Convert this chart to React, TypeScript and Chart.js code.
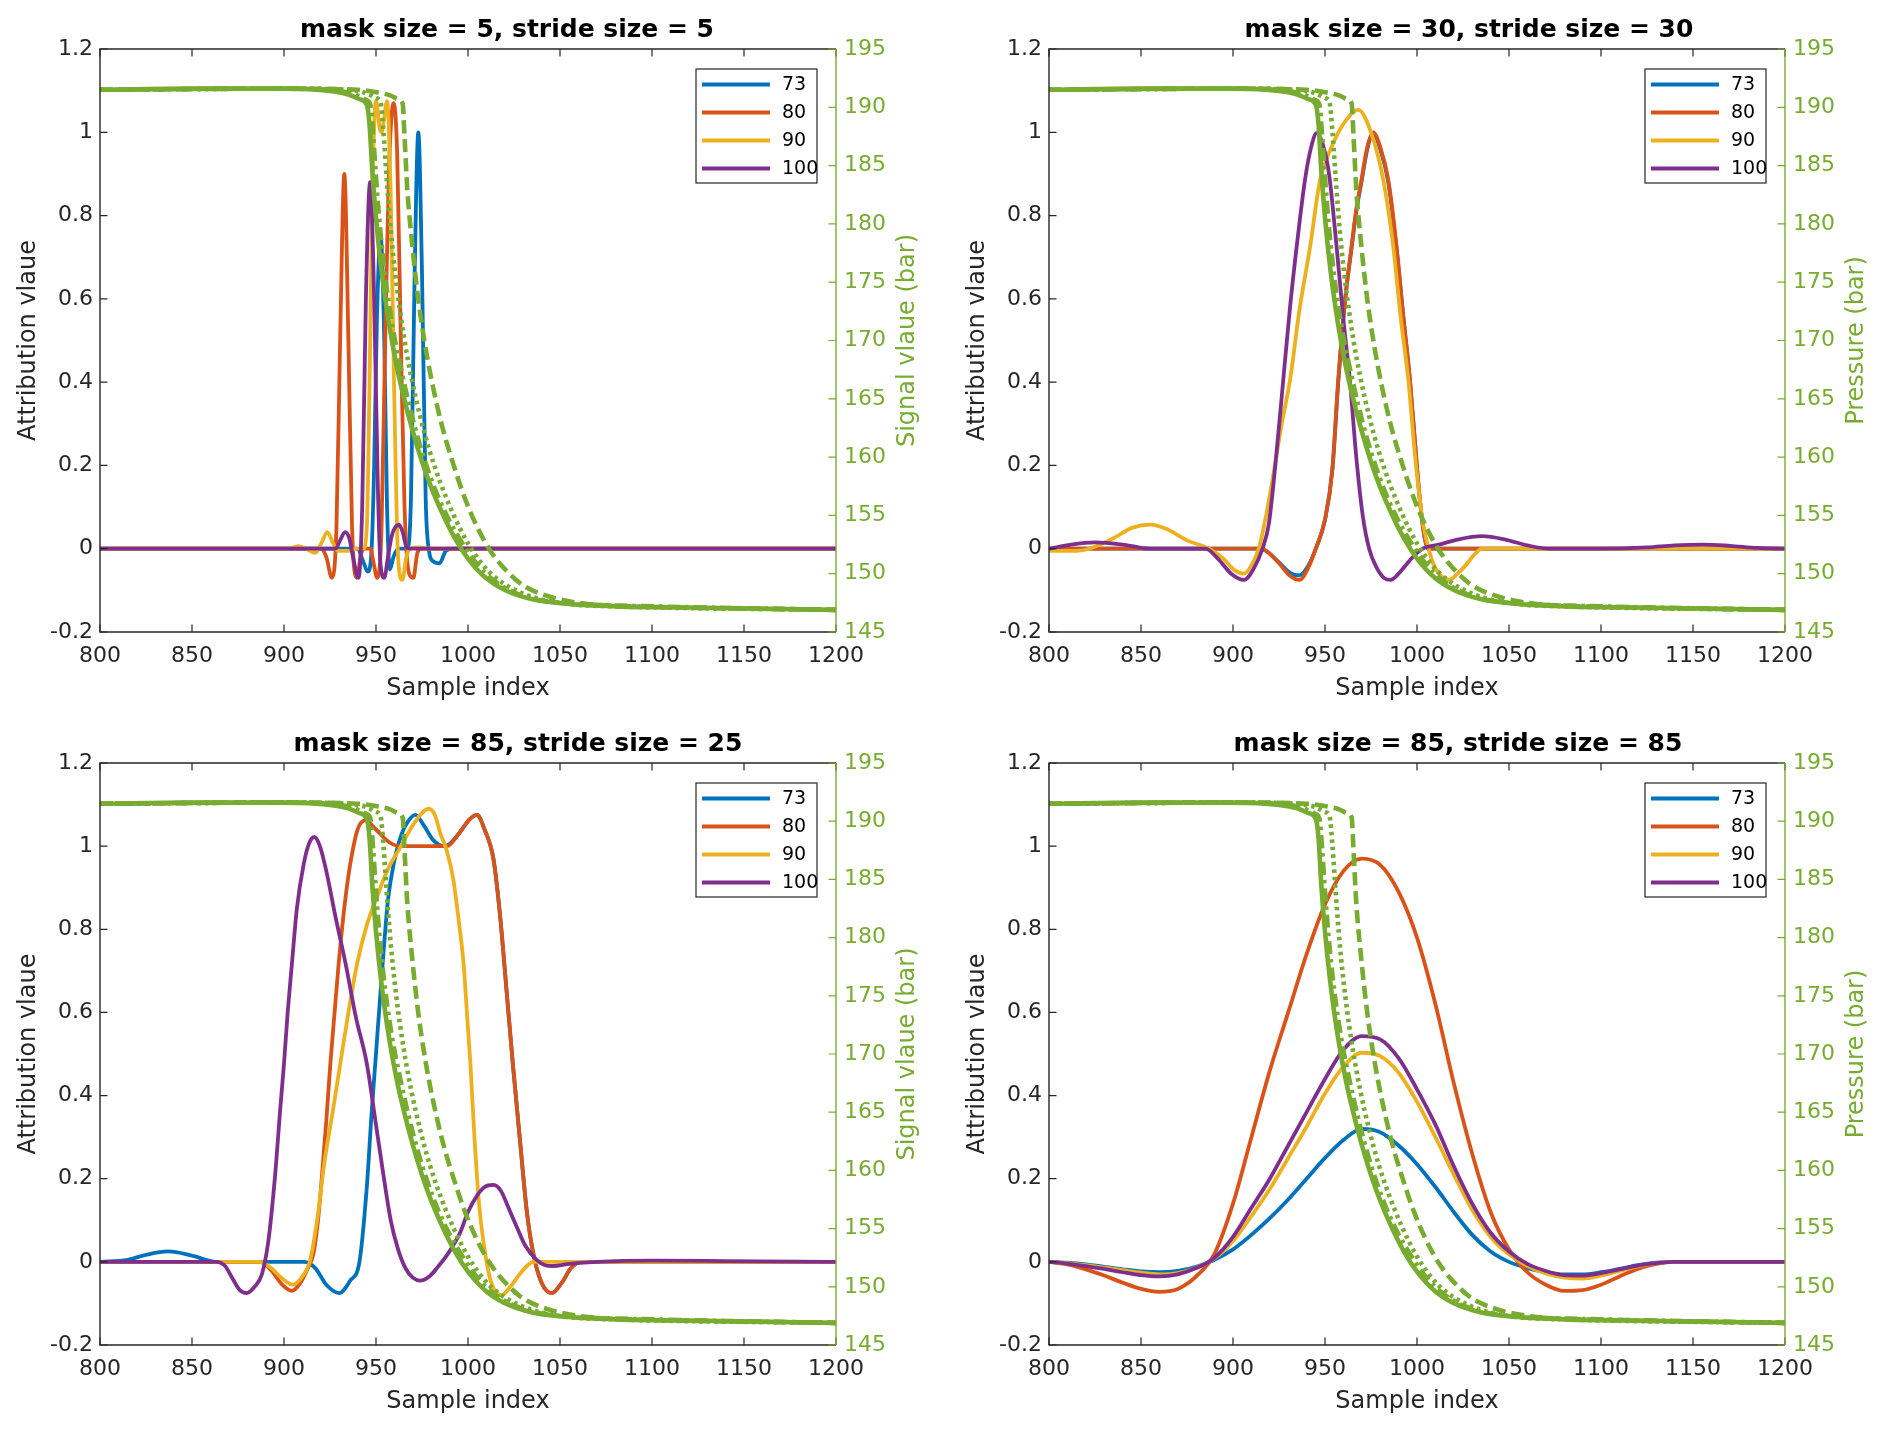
import React, { useEffect, useRef } from "react";
import { Chart, registerables } from "chart.js";
Chart.register(...registerables);

type Pt = [number, number];

// ---------- axes ----------
const X_TICKS = [800, 850, 900, 950, 1000, 1050, 1100, 1150, 1200];
const Y_LEFT_TICKS = [-0.2, 0, 0.2, 0.4, 0.6, 0.8, 1, 1.2];
const Y_RIGHT_TICKS = [145, 150, 155, 160, 165, 170, 175, 180, 185, 190, 195];

// ---------- series meta ----------
const SERIES_LABELS = ["73", "80", "90", "100"];
const SERIES_COLORS = ["#0072BD", "#D95319", "#EDB120", "#7E2F8E"];
const GREEN = "#77AC30";

// ---------- pressure signals (right axis, bar) ----------
const P_SOLID: Pt[] = [
  [800, 191.5], [850, 191.6], [900, 191.6], [925, 191.4], [935, 191.1], [941, 190.7], [945, 190.2],
  [946.5, 188.5], [948, 184.5], [950, 180.5], [953, 176.0], [957, 171.5], [961, 168.0], [965, 165.2],
  [970, 162.2], [975, 159.6], [980, 157.4], [986, 155.2], [993, 153.0], [1000, 151.3], [1010, 149.6],
  [1020, 148.6], [1035, 147.8], [1055, 147.4], [1080, 147.2], [1120, 147.1], [1160, 147.0], [1200, 146.9],
];
const P_DASHDOT: Pt[] = [
  [800, 191.5], [900, 191.6], [930, 191.4], [940, 191.0], [945, 190.6], [947, 190.2], [948.5, 187.5],
  [950, 184.0], [952, 180.0], [955, 175.5], [959, 171.2], [963, 168.0], [968, 164.5], [973, 161.5],
  [978, 159.0], [984, 156.5], [990, 154.5], [997, 152.6], [1005, 150.8], [1015, 149.3], [1025, 148.4],
  [1040, 147.7], [1060, 147.4], [1100, 147.2], [1200, 146.9],
];
const P_DOTTED: Pt[] = [
  [800, 191.5], [900, 191.6], [935, 191.5], [945, 191.2], [950, 190.8], [952.5, 190.4], [954, 188.0],
  [956, 183.5], [958, 179.5], [961, 175.0], [965, 170.5], [969, 167.0], [974, 163.5], [979, 160.6],
  [985, 157.8], [992, 155.1], [1000, 152.6], [1010, 150.4], [1020, 149.1], [1035, 148.0], [1055, 147.4],
  [1080, 147.2], [1200, 146.9],
];
const P_DASHED: Pt[] = [
  [800, 191.5], [900, 191.6], [940, 191.5], [950, 191.3], [958, 191.0], [962, 190.7], [964.5, 190.3],
  [965.5, 187.5], [967, 183.0], [969.5, 178.5], [973, 173.5], [977, 169.3], [981, 166.0], [986, 162.6],
  [992, 159.4], [998, 156.6], [1005, 154.0], [1012, 152.0], [1020, 150.4], [1030, 149.0], [1045, 148.0],
  [1065, 147.4], [1090, 147.2], [1200, 146.9],
];

// ---------- panel 1: mask 5, stride 5 ----------
const S1_73: Pt[] = [
  [800, 0], [940, 0], [943, -0.03], [945.5, -0.055], [947.5, -0.01], [949, 0.2], [950.5, 0.55], [952.5, 0.75],
  [954.5, 0.5], [956, 0.1], [957.5, -0.05], [959.5, -0.02], [962, 0], [967, 0], [969, 0.12], [971, 0.66],
  [973, 1.0], [975, 0.66], [977, 0.12], [979, -0.01], [981, -0.03], [984.5, -0.035], [988, -0.005], [992, 0], [1200, 0],
];
const S1_80: Pt[] = [
  [800, 0], [920, 0], [923, -0.02], [926, -0.07], [928.5, 0.05], [930.5, 0.5], [932.8, 0.9], [935, 0.5],
  [937, 0.05], [939.5, -0.07], [942, -0.01], [944, 0], [947, 0], [948.5, -0.03], [950.7, -0.07], [953, 0.05],
  [955, 0.5], [957, 0.9], [959.5, 1.07], [961.5, 0.95], [963.5, 0.5], [965.5, 0.1], [968, -0.06], [970.3, -0.07],
  [972.5, -0.01], [975, 0], [1200, 0],
];
const S1_90: Pt[] = [
  [800, 0], [900, 0], [905, 0.003], [908, 0.006], [912, 0], [917, -0.01], [920.5, 0.015], [923.5, 0.04],
  [926.5, 0.015], [929, -0.005], [935, -0.005], [940, 0], [943, 0], [945, 0.05], [946.5, 0.4], [948, 0.85],
  [950, 1.075], [952, 1.01], [953, 1.0], [954.3, 1.03], [956, 1.075], [958, 0.85], [960, 0.35], [962, -0.02],
  [964.3, -0.075], [966.5, -0.02], [968.5, 0], [973, 0.003], [980, 0], [1200, 0],
];
const S1_100: Pt[] = [
  [800, 0], [928, 0], [930.5, 0.02], [933.2, 0.04], [935.5, 0.025], [937.5, -0.02], [940.5, -0.07],
  [942.5, 0.1], [944.5, 0.6], [946.8, 0.88], [949, 0.6], [951, 0.15], [952.5, -0.04], [954.5, -0.07],
  [956.5, -0.02], [958.5, 0.03], [960.5, 0.052], [962.5, 0.057], [964.5, 0.04], [966.5, 0.005], [968.5, 0], [1200, 0],
];

// ---------- panel 2: mask 30, stride 30 ----------
const S2_73: Pt[] = [
  [800, 0], [914, 0], [918, -0.005], [925, -0.033], [931, -0.058], [936, -0.064], [941, -0.04], [945, 0.0],
  [950, 0.07], [954, 0.19], [957.2, 0.4], [961, 0.6], [964.4, 0.72], [967, 0.81], [969.8, 0.88], [973, 0.96],
  [976.2, 0.995], [980, 0.96], [984.4, 0.88], [988.9, 0.72], [992.5, 0.56], [996.2, 0.4], [999, 0.25],
  [1001.5, 0.12], [1004, 0.03], [1006, 0], [1200, 0],
];
const S2_80: Pt[] = [
  [800, 0], [914, 0], [918, -0.005], [925, -0.035], [931, -0.065], [936, -0.075], [941, -0.045], [945, 0.0],
  [950, 0.07], [954, 0.19], [957.2, 0.405], [961, 0.6], [964.4, 0.725], [967, 0.815], [969.8, 0.885], [973, 0.965],
  [976.2, 1.0], [980, 0.965], [984.4, 0.885], [988.9, 0.725], [992.5, 0.56], [996.2, 0.405], [999, 0.25],
  [1001.5, 0.12], [1004, 0.03], [1006, 0], [1200, 0],
];
const S2_90: Pt[] = [
  [800, -0.005], [815, -0.005], [822, 0.0], [835, 0.025], [845, 0.05], [855.3, 0.058], [865, 0.045],
  [875, 0.02], [887, 0], [895, -0.025], [901, -0.052], [906, -0.06], [910, -0.04], [914, 0], [918, 0.08],
  [922, 0.18], [926.5, 0.3], [931, 0.405], [936, 0.57], [941.9, 0.725], [947.3, 0.885], [953.6, 0.965],
  [960, 1.02], [968.1, 1.054], [975, 1.0], [981.7, 0.885], [987.1, 0.725], [991, 0.56], [995.3, 0.405],
  [999, 0.22], [1003, 0.07], [1008.3, -0.03], [1013, -0.065], [1017.4, -0.075], [1022, -0.06], [1026.4, -0.04],
  [1031, -0.015], [1035.5, 0], [1200, 0],
];
const S2_100: Pt[] = [
  [800, 0], [812, 0.01], [825, 0.015], [840, 0.01], [855, 0.0], [885, 0], [892, -0.025], [899, -0.06],
  [906, -0.075], [911, -0.05], [916, 0], [919.5, 0.06], [923, 0.2], [927.3, 0.405], [931, 0.58], [934.6, 0.725],
  [939.1, 0.885], [942.5, 0.965], [945.5, 0.998], [948.5, 0.975], [952.2, 0.9], [956.3, 0.725], [960, 0.55],
  [963.5, 0.405], [967, 0.22], [970.5, 0.08], [974, 0], [978, -0.045], [982, -0.07], [985.7, -0.075], [990, -0.06],
  [995.7, -0.03], [1000, -0.01], [1003, 0], [1012, 0.01], [1022, 0.022], [1035.5, 0.03], [1048, 0.022],
  [1060, 0.008], [1072, 0], [1100, 0], [1125, 0.003], [1140, 0.008], [1155, 0.01], [1170, 0.007],
  [1185, 0.002], [1200, 0],
];

// ---------- panel 3: mask 85, stride 25 ----------
const S3_73: Pt[] = [
  [800, 0], [815, 0.005], [825, 0.017], [837, 0.025], [850, 0.015], [863, 0], [880, 0], [911, 0], [917, -0.015],
  [923, -0.055], [930, -0.075], [936, -0.045], [941, 0], [945, 0.18], [947.5, 0.35], [949.6, 0.477],
  [953.6, 0.717], [956.5, 0.87], [959.6, 0.957], [964, 1.03], [967.5, 1.06], [971.4, 1.075], [976, 1.05],
  [981, 1.015], [986.8, 1.0], [990, 1.005], [995, 1.03], [1001, 1.065], [1004.9, 1.075], [1009, 1.04],
  [1013.8, 0.97], [1017.5, 0.83], [1021, 0.65], [1024.5, 0.47], [1028.3, 0.29], [1032, 0.12], [1035.5, 0.02],
  [1040, -0.05], [1045.5, -0.075], [1051, -0.05], [1056, -0.015], [1061, 0], [1200, 0],
];
const S3_80: Pt[] = [
  [800, 0], [887, 0], [893, -0.02], [899, -0.055], [904.2, -0.07], [909, -0.05], [913, -0.015], [916, 0.02],
  [918.5, 0.1], [920.5, 0.2], [923, 0.34], [925.2, 0.477], [927.5, 0.6], [929.7, 0.717], [933, 0.86], [936, 0.957],
  [940, 1.04], [944.2, 1.062], [950, 1.04], [957, 1.01], [963.2, 1.0], [975, 1.0], [988.6, 1.0], [995, 1.03],
  [1001, 1.065], [1004.9, 1.075], [1009, 1.04], [1013.8, 0.97], [1017.5, 0.83], [1021, 0.65], [1024.5, 0.47],
  [1028.3, 0.29], [1032, 0.12], [1035.5, 0.02], [1040, -0.05], [1045.5, -0.075], [1051, -0.05], [1056, -0.015],
  [1061, 0], [1200, 0],
];
const S3_90: Pt[] = [
  [800, 0], [887, 0], [893, -0.015], [899, -0.04], [905, -0.055], [910, -0.035], [914, 0], [918, 0.1],
  [922, 0.24], [926.8, 0.37], [930.6, 0.477], [935, 0.6], [939.7, 0.717], [945, 0.81], [950.5, 0.877],
  [956, 0.94], [963.2, 0.997], [970, 1.05], [974, 1.075], [978.6, 1.09], [982, 1.075], [985, 1.03],
  [988.4, 0.99], [992, 0.92], [995, 0.82], [997.6, 0.717], [1000, 0.56], [1001.3, 0.477], [1003.5, 0.3],
  [1006, 0.14], [1009, 0.03], [1012, -0.04], [1015.5, -0.075], [1018.3, -0.08], [1023, -0.06], [1028, -0.03],
  [1032, -0.01], [1035.5, 0], [1200, 0],
];
const S3_100: Pt[] = [
  [800, 0], [863.4, 0], [868, -0.01], [872, -0.04], [876, -0.068], [879.7, -0.075], [884, -0.06], [888, -0.03],
  [891.5, 0.05], [895, 0.2], [898, 0.37], [900, 0.477], [902, 0.6], [904.3, 0.717], [907, 0.85], [910.7, 0.957],
  [913.5, 1.005], [916.5, 1.022], [919.5, 1.0], [923, 0.94], [928, 0.83], [933.5, 0.717], [939, 0.59],
  [945, 0.477], [950, 0.33], [954, 0.21], [958, 0.1], [962, 0.03], [966, -0.015], [970, -0.038], [973.9, -0.045],
  [979, -0.035], [984, -0.01], [988.4, 0.015], [992, 0.04], [995.7, 0.07], [1000, 0.12], [1005, 0.16],
  [1009, 0.18], [1013.8, 0.185], [1018, 0.17], [1022, 0.13], [1026.4, 0.085], [1031, 0.04], [1037.3, 0.005],
  [1042, -0.008], [1046, -0.01], [1055, -0.005], [1070, 0], [1100, 0.003], [1140, 0.002], [1200, 0],
];

// ---------- panel 4: mask 85, stride 85 ----------
const S4_73: Pt[] = [
  [800, 0], [810, -0.002], [820, -0.006], [830, -0.012], [840, -0.018], [850, -0.023], [860, -0.025],
  [870, -0.022], [880, -0.012], [890, 0.005], [900, 0.03], [910, 0.065], [920, 0.105], [930, 0.15], [940, 0.2],
  [950, 0.25], [960, 0.293], [970, 0.32], [980, 0.312], [990, 0.28], [1000, 0.235], [1010, 0.18], [1020, 0.12],
  [1030, 0.065], [1040, 0.025], [1050, 0.0], [1060, -0.015], [1070, -0.025], [1080, -0.03], [1090, -0.03],
  [1100, -0.025], [1110, -0.017], [1120, -0.008], [1130, -0.002], [1140, 0], [1200, 0],
];
const S4_80: Pt[] = [
  [800, 0], [810, -0.006], [820, -0.018], [830, -0.033], [840, -0.05], [850, -0.065], [860, -0.072],
  [870, -0.065], [880, -0.035], [890, 0.02], [900, 0.14], [910, 0.3], [920, 0.46], [930, 0.6], [940, 0.74],
  [950, 0.86], [960, 0.94], [970, 0.97], [980, 0.955], [990, 0.89], [1000, 0.78], [1010, 0.62], [1020, 0.43],
  [1030, 0.26], [1040, 0.12], [1050, 0.03], [1060, -0.025], [1070, -0.055], [1080, -0.07], [1090, -0.068],
  [1100, -0.055], [1110, -0.035], [1120, -0.017], [1130, -0.005], [1140, 0], [1200, 0],
];
const S4_90: Pt[] = [
  [800, 0], [810, -0.003], [820, -0.008], [830, -0.014], [840, -0.02], [850, -0.026], [860, -0.03],
  [870, -0.027], [880, -0.014], [890, 0.008], [900, 0.05], [910, 0.11], [920, 0.175], [930, 0.25], [940, 0.325],
  [950, 0.405], [960, 0.47], [970, 0.503], [980, 0.495], [990, 0.455], [1000, 0.385], [1010, 0.3], [1020, 0.21],
  [1030, 0.125], [1040, 0.06], [1050, 0.018], [1060, -0.01], [1070, -0.028], [1080, -0.038], [1090, -0.04],
  [1100, -0.033], [1110, -0.022], [1120, -0.011], [1130, -0.003], [1140, 0], [1200, 0],
];
const S4_100: Pt[] = [
  [800, 0], [810, -0.004], [820, -0.01], [830, -0.017], [840, -0.025], [850, -0.032], [860, -0.035],
  [870, -0.03], [880, -0.015], [890, 0.01], [900, 0.06], [910, 0.13], [920, 0.2], [930, 0.28], [940, 0.36],
  [950, 0.44], [960, 0.51], [970, 0.543], [980, 0.535], [990, 0.49], [1000, 0.415], [1010, 0.33], [1020, 0.23],
  [1030, 0.14], [1040, 0.07], [1050, 0.025], [1060, -0.005], [1070, -0.022], [1080, -0.032], [1090, -0.033],
  [1100, -0.027], [1110, -0.018], [1120, -0.009], [1130, -0.003], [1140, 0], [1200, 0],
];

const TITLES = [
  "mask size = 5, stride size = 5",
  "mask size = 30, stride size = 30",
  "mask size = 85, stride size = 25",
  "mask size = 85, stride size = 85",
];
const RIGHT_LABELS = ["Signal vlaue (bar)", "Pressure (bar)", "Signal vlaue (bar)", "Pressure (bar)"];
const LEFT_LABEL = "Attribution vlaue";
const X_LABEL = "Sample index";
const PANEL_SERIES: Pt[][][] = [
  [S1_73, S1_80, S1_90, S1_100],
  [S2_73, S2_80, S2_90, S2_100],
  [S3_73, S3_80, S3_90, S3_100],
  [S4_73, S4_80, S4_90, S4_100],
];
const PRESSURE: Pt[][] = [P_SOLID, P_DASHED, P_DOTTED, P_DASHDOT];
const PRESSURE_DASH: number[][] = [[], [13, 6], [3.5, 4], [13, 5, 3.5, 5]];

// ---------- layout (positions only) ----------
const LAYOUT = [
  { left: 0, top: 0, h: 717, padTop: 49, yW: 100, y1W: 110, xH: 85, titleDx: 39 },
  { left: 946, top: 0, h: 717, padTop: 49, yW: 103, y1W: 107, xH: 85, titleDx: 52 },
  { left: 0, top: 717, h: 718, padTop: 46, yW: 100, y1W: 110, xH: 90, titleDx: 50 },
  { left: 946, top: 717, h: 718, padTop: 46, yW: 103, y1W: 107, xH: 90, titleDx: 41 },
];

const FONT = "'DejaVu Sans', Verdana, sans-serif";
const AXIS_COLOR = "#262626";

function toXY(p: Pt[]) {
  return p.map(([x, y]) => ({ x, y }));
}

function Panel({ idx }: { idx: number }) {
  const ref = useRef<HTMLCanvasElement | null>(null);
  const L = LAYOUT[idx];
  useEffect(() => {
    if (!ref.current) return;
    const datasets: any[] = [];
    PANEL_SERIES[idx].forEach((s, i) => {
      datasets.push({
        label: SERIES_LABELS[i],
        data: toXY(s),
        yAxisID: "y",
        borderColor: SERIES_COLORS[i],
        backgroundColor: SERIES_COLORS[i],
        borderWidth: 3.8,
        pointRadius: 0,
        cubicInterpolationMode: "monotone",
        order: 10 - i,
        isSeries: true,
      });
    });
    PRESSURE.forEach((p, i) => {
      datasets.push({
        label: "pressure-" + i,
        data: toXY(p),
        yAxisID: "y1",
        borderColor: GREEN,
        borderWidth: 4.6,
        borderDash: PRESSURE_DASH[i],
        borderCapStyle: "butt",
        pointRadius: 0,
        cubicInterpolationMode: "monotone",
        order: 1 + i,
        isSeries: false,
      });
    });

    const decor = {
      id: "decor",
      afterDraw(chart: any) {
        const { ctx, chartArea } = chart;
        const { left, right, top, bottom } = chartArea;
        const sx = chart.scales.x;
        const sy = chart.scales.y;
        const sy1 = chart.scales.y1;
        const TL = 7.5;
        ctx.save();
        // frame
        ctx.strokeStyle = AXIS_COLOR;
        ctx.lineWidth = 1.4;
        ctx.beginPath();
        ctx.moveTo(right, top);
        ctx.lineTo(left, top);
        ctx.lineTo(left, bottom);
        ctx.lineTo(right, bottom);
        ctx.stroke();
        ctx.lineWidth = 1.2;
        ctx.beginPath();
        X_TICKS.forEach((t) => {
          const px = sx.getPixelForValue(t);
          ctx.moveTo(px, bottom);
          ctx.lineTo(px, bottom - TL);
          ctx.moveTo(px, top);
          ctx.lineTo(px, top + TL);
        });
        Y_LEFT_TICKS.forEach((t) => {
          const py = sy.getPixelForValue(t);
          ctx.moveTo(left, py);
          ctx.lineTo(left + TL, py);
        });
        ctx.stroke();
        // right axis
        ctx.strokeStyle = GREEN;
        ctx.lineWidth = 1.4;
        ctx.beginPath();
        ctx.moveTo(right, top);
        ctx.lineTo(right, bottom);
        ctx.stroke();
        ctx.lineWidth = 1.2;
        ctx.beginPath();
        Y_RIGHT_TICKS.forEach((t) => {
          const py = sy1.getPixelForValue(t);
          ctx.moveTo(right, py);
          ctx.lineTo(right - TL, py);
        });
        ctx.stroke();

        // title
        ctx.fillStyle = "#000";
        ctx.font = `bold 25px ${FONT}`;
        ctx.textAlign = "center";
        ctx.textBaseline = "middle";
        ctx.fillText(TITLES[idx], (left + right) / 2 + L.titleDx, top - 19);
        // x label
        ctx.fillStyle = AXIS_COLOR;
        ctx.font = `24px ${FONT}`;
        ctx.fillText(X_LABEL, (left + right) / 2, bottom + 57);
        // left label
        ctx.save();
        ctx.translate(left - 71, (top + bottom) / 2);
        ctx.rotate(-Math.PI / 2);
        ctx.fillText(LEFT_LABEL, 0, 0);
        ctx.restore();
        // right label
        ctx.save();
        ctx.fillStyle = GREEN;
        ctx.translate(right + 72, (top + bottom) / 2);
        ctx.rotate(-Math.PI / 2);
        ctx.fillText(RIGHT_LABELS[idx], 0, 0);
        ctx.restore();

        // legend
        const items = chart.data.datasets.filter((d: any) => d.isSeries);
        const bw = 121;
        const bh = 114;
        const bx = right - 19 - bw;
        const by = top + 20;
        ctx.fillStyle = "#fff";
        ctx.fillRect(bx, by, bw, bh);
        ctx.strokeStyle = AXIS_COLOR;
        ctx.lineWidth = 1.2;
        ctx.strokeRect(bx, by, bw, bh);
        ctx.font = `19px ${FONT}`;
        ctx.textAlign = "left";
        items.forEach((d: any, i: number) => {
          const cy = by + 15.5 + i * 28;
          ctx.strokeStyle = d.borderColor;
          ctx.lineWidth = 4.2;
          ctx.beginPath();
          ctx.moveTo(bx + 6, cy);
          ctx.lineTo(bx + 74, cy);
          ctx.stroke();
          ctx.fillStyle = "#000";
          ctx.fillText(d.label, bx + 86, cy + 1);
        });
        ctx.restore();
      },
    };

    const chart = new Chart(ref.current, {
      type: "line",
      data: { datasets },
      options: {
        animation: false,
        responsive: false,
        devicePixelRatio: 1,
        layout: { padding: { top: L.padTop, left: 0, right: 0, bottom: 0 } },
        plugins: { legend: { display: false }, tooltip: { enabled: false }, title: { display: false } },
        elements: { point: { radius: 0 }, line: { borderJoinStyle: "round" } },
        scales: {
          x: {
            type: "linear",
            min: 800,
            max: 1200,
            grid: { display: false, drawTicks: false },
            border: { display: false },
            afterBuildTicks: (s: any) => {
              s.ticks = X_TICKS.map((v) => ({ value: v }));
            },
            afterFit: (s: any) => {
              s.height = L.xH;
            },
            ticks: {
              color: AXIS_COLOR,
              font: { family: FONT, size: 22 },
              padding: 11,
              maxRotation: 0,
              autoSkip: false,
              callback: (v: any) => String(v),
            },
          },
          y: {
            type: "linear",
            position: "left",
            min: -0.2,
            max: 1.2,
            grid: { display: false, drawTicks: false },
            border: { display: false },
            afterBuildTicks: (s: any) => {
              s.ticks = Y_LEFT_TICKS.map((v) => ({ value: v }));
            },
            afterFit: (s: any) => {
              s.width = L.yW;
            },
            ticks: {
              color: AXIS_COLOR,
              font: { family: FONT, size: 22 },
              padding: 7,
              autoSkip: false,
              callback: (v: any) => String(v),
            },
          },
          y1: {
            type: "linear",
            position: "right",
            min: 145,
            max: 195,
            grid: { display: false, drawTicks: false },
            border: { display: false },
            afterBuildTicks: (s: any) => {
              s.ticks = Y_RIGHT_TICKS.map((v) => ({ value: v }));
            },
            afterFit: (s: any) => {
              s.width = L.y1W;
            },
            ticks: {
              color: GREEN,
              font: { family: FONT, size: 22 },
              padding: 8,
              autoSkip: false,
              callback: (v: any) => String(v),
            },
          },
        },
      } as any,
      plugins: [decor],
    });
    return () => chart.destroy();
  }, [idx]);

  return (
    <canvas
      ref={ref}
      width={946}
      height={L.h}
      style={{ position: "absolute", left: L.left, top: L.top, width: 946, height: L.h, display: "block" }}
    />
  );
}

export default function App() {
  return (
    <div style={{ position: "absolute", left: 0, top: 0, width: 1892, height: 1435, background: "#fff" }}>
      {[0, 1, 2, 3].map((i) => (
        <Panel key={i} idx={i} />
      ))}
    </div>
  );
}
